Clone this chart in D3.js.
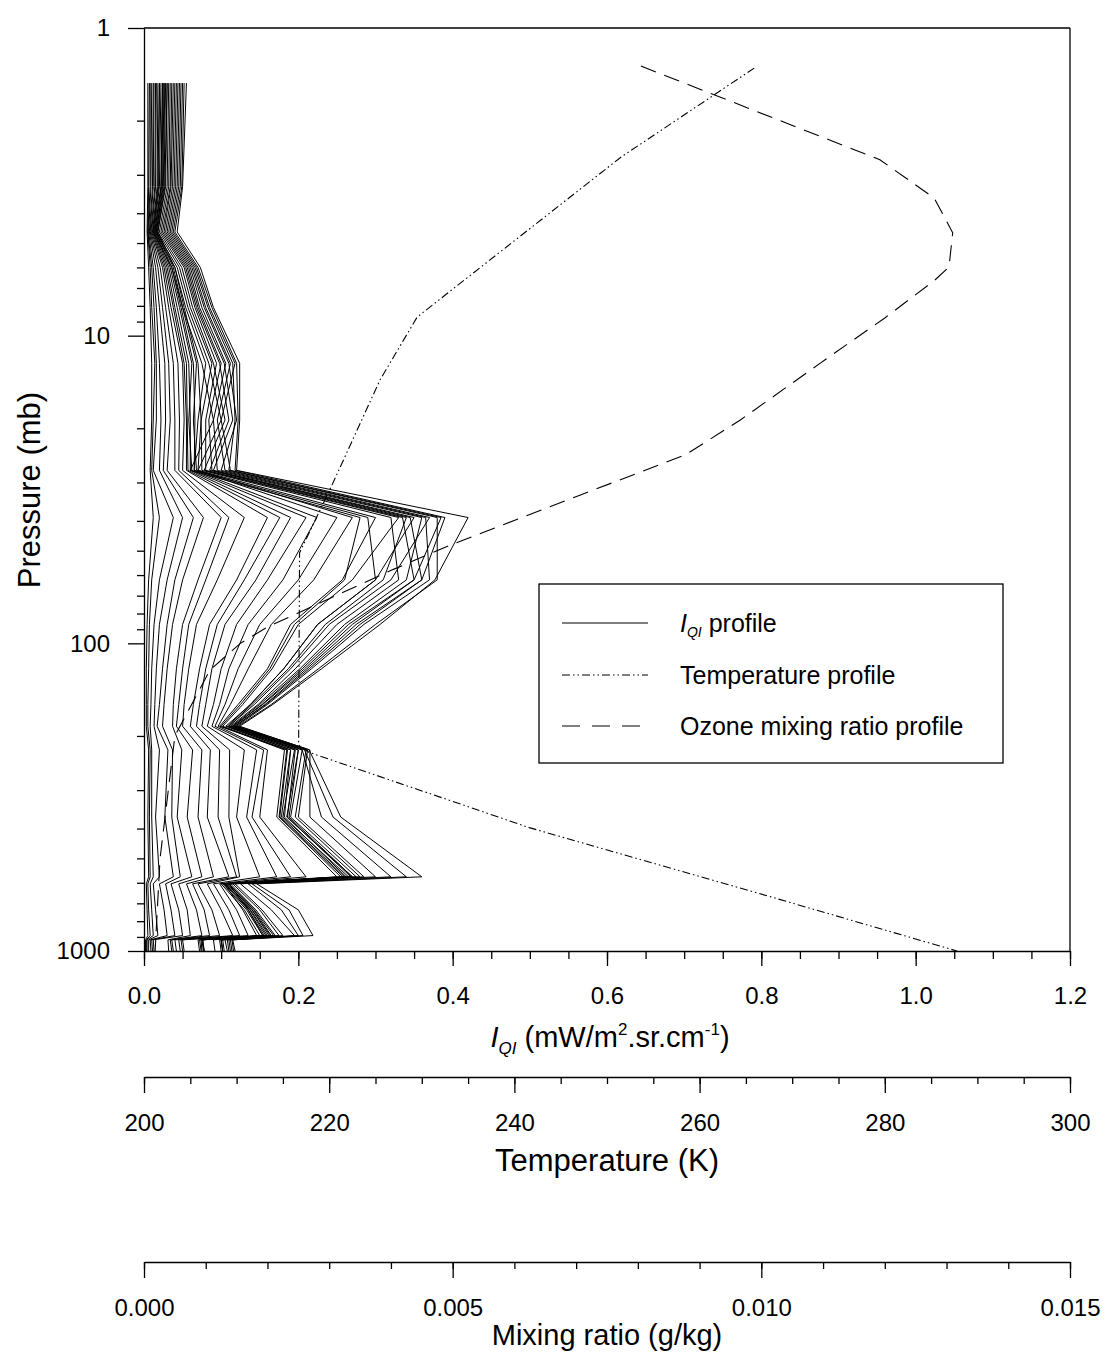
<!DOCTYPE html>
<html>
<head>
<meta charset="utf-8">
<script src="https://cdn.jsdelivr.net/npm/d3@7"></script>
<style>
  body { margin: 0; background: #fff; }
  text { font-family: "Liberation Sans", Arial, sans-serif; fill: #000; }
</style>
</head>
<body>
<svg id="chart"></svg>
<script>
// pressure levels (mb) of the I_QI profiles
const pressureLevels = [1.51, 3.28, 4.6, 6.0, 8.1, 12.3, 18.8, 27.4, 39, 62.2, 86.8, 121, 158, 186, 222, 367, 574, 605, 735, 891, 920, 1000];

// one row per profile, one value per pressure level (mW/m2.sr.cm-1)
const iqiProfiles = [
  [0.005,0.005,0.004,0.006,0.008,0.010,0.010,0.008, 0.012,0.006,0.004,0.003,0.003,0.003,0.006,0.005,0.006,0.003,0.004,0.005,0.002,0.002],
  [0.007,0.006,0.005,0.008,0.010,0.014,0.012,0.010, 0.020,0.010,0.007,0.006,0.005,0.005,0.008,0.007,0.008,0.005,0.006,0.008,0.003,0.003],
  [0.008,0.008,0.005,0.010,0.013,0.016,0.016,0.012, 0.038,0.020,0.013,0.010,0.009,0.008,0.010,0.010,0.012,0.008,0.010,0.012,0.004,0.004],
  [0.010,0.009,0.006,0.012,0.016,0.020,0.022,0.020, 0.050,0.030,0.020,0.016,0.014,0.013,0.020,0.015,0.020,0.012,0.015,0.018,0.006,0.006],
  [0.012,0.011,0.007,0.015,0.020,0.027,0.028,0.025, 0.064,0.040,0.030,0.024,0.020,0.017,0.031,0.027,0.038,0.020,0.026,0.030,0.008,0.009],
  [0.013,0.012,0.008,0.018,0.024,0.032,0.034,0.030, 0.077,0.050,0.037,0.030,0.026,0.024,0.037,0.036,0.047,0.028,0.035,0.040,0.010,0.011],
  [0.015,0.014,0.009,0.021,0.028,0.038,0.040,0.040, 0.100,0.070,0.050,0.042,0.038,0.037,0.049,0.043,0.062,0.035,0.045,0.050,0.012,0.013],
  [0.016,0.015,0.010,0.024,0.032,0.044,0.046,0.045, 0.110,0.080,0.058,0.050,0.045,0.042,0.063,0.056,0.075,0.045,0.056,0.060,0.031,0.032],
  [0.018,0.017,0.011,0.026,0.035,0.050,0.052,0.050, 0.130,0.095,0.068,0.058,0.052,0.050,0.075,0.070,0.090,0.055,0.068,0.075,0.034,0.036],
  [0.020,0.018,0.012,0.028,0.038,0.052,0.055,0.055, 0.160,0.120,0.085,0.072,0.064,0.060,0.086,0.082,0.110,0.063,0.078,0.085,0.036,0.038],
  [0.022,0.020,0.013,0.030,0.040,0.055,0.056,0.057, 0.176,0.130,0.095,0.080,0.072,0.068,0.098,0.096,0.120,0.070,0.088,0.098,0.040,0.042],
  [0.024,0.022,0.014,0.032,0.043,0.058,0.060,0.060, 0.190,0.145,0.105,0.088,0.080,0.075,0.111,0.110,0.124,0.082,0.100,0.115,0.045,0.047],
  [0.025,0.023,0.015,0.034,0.046,0.062,0.058,0.062, 0.210,0.160,0.120,0.100,0.090,0.082,0.130,0.120,0.150,0.090,0.110,0.124,0.048,0.050],
  [0.026,0.024,0.016,0.036,0.048,0.064,0.066,0.065, 0.224,0.180,0.135,0.110,0.098,0.088,0.146,0.133,0.172,0.098,0.120,0.135,0.050,0.052],
  [0.028,0.026,0.017,0.038,0.050,0.068,0.064,0.068, 0.250,0.200,0.150,0.122,0.105,0.092,0.155,0.140,0.190,0.104,0.128,0.146,0.070,0.072],
  [0.030,0.027,0.018,0.040,0.052,0.070,0.074,0.070, 0.270,0.220,0.165,0.135,0.112,0.096,0.160,0.150,0.210,0.110,0.135,0.154,0.072,0.074],
  [0.020,0.019,0.012,0.036,0.050,0.075,0.090,0.060, 0.280,0.260,0.195,0.163,0.125,0.100,0.182,0.172,0.250,0.100,0.130,0.150,0.074,0.075],
  [0.024,0.022,0.014,0.040,0.054,0.080,0.070,0.065, 0.290,0.300,0.225,0.181,0.138,0.108,0.190,0.178,0.260,0.105,0.137,0.158,0.076,0.078],
  [0.027,0.025,0.016,0.043,0.057,0.084,0.100,0.070, 0.300,0.257,0.190,0.160,0.122,0.098,0.185,0.175,0.255,0.102,0.133,0.154,0.075,0.077],
  [0.030,0.028,0.018,0.046,0.060,0.088,0.074,0.075, 0.320,0.330,0.250,0.196,0.148,0.112,0.200,0.185,0.270,0.110,0.142,0.165,0.100,0.102],
  [0.032,0.030,0.020,0.049,0.063,0.090,0.105,0.078, 0.330,0.270,0.200,0.166,0.128,0.102,0.186,0.176,0.258,0.104,0.135,0.156,0.076,0.078],
  [0.034,0.032,0.022,0.052,0.066,0.094,0.080,0.080, 0.335,0.350,0.265,0.205,0.153,0.115,0.205,0.190,0.275,0.112,0.145,0.170,0.102,0.104],
  [0.036,0.034,0.024,0.054,0.068,0.098,0.110,0.085, 0.340,0.310,0.235,0.187,0.140,0.110,0.195,0.180,0.265,0.108,0.140,0.162,0.090,0.092],
  [0.038,0.035,0.026,0.056,0.070,0.100,0.084,0.088, 0.345,0.360,0.275,0.211,0.157,0.118,0.210,0.196,0.280,0.115,0.150,0.175,0.105,0.108],
  [0.040,0.037,0.028,0.058,0.072,0.104,0.115,0.090, 0.350,0.300,0.225,0.181,0.138,0.106,0.190,0.182,0.262,0.106,0.138,0.160,0.098,0.100],
  [0.042,0.039,0.030,0.060,0.075,0.106,0.090,0.095, 0.360,0.340,0.260,0.202,0.150,0.114,0.200,0.188,0.270,0.110,0.143,0.168,0.100,0.102],
  [0.044,0.041,0.032,0.062,0.078,0.110,0.120,0.100, 0.365,0.370,0.285,0.217,0.160,0.120,0.212,0.200,0.285,0.118,0.153,0.180,0.108,0.110],
  [0.046,0.043,0.034,0.064,0.080,0.112,0.095,0.105, 0.370,0.320,0.240,0.190,0.143,0.110,0.196,0.186,0.268,0.108,0.140,0.164,0.100,0.102],
  [0.048,0.045,0.036,0.066,0.083,0.115,0.118,0.110, 0.380,0.380,0.300,0.226,0.165,0.122,0.215,0.215,0.300,0.125,0.165,0.195,0.110,0.112],
  [0.050,0.047,0.038,0.068,0.085,0.118,0.100,0.112, 0.385,0.350,0.270,0.208,0.154,0.116,0.205,0.230,0.320,0.135,0.178,0.200,0.112,0.114],
  [0.052,0.049,0.040,0.070,0.088,0.120,0.122,0.118, 0.390,0.360,0.280,0.214,0.158,0.118,0.208,0.245,0.340,0.140,0.188,0.206,0.114,0.116],
  [0.055,0.050,0.043,0.073,0.090,0.124,0.124,0.120, 0.420,0.377,0.306,0.230,0.167,0.124,0.214,0.255,0.360,0.146,0.200,0.219,0.115,0.118]
];

// temperature profile (K)
const tempPressure = [1.35, 2.63, 8.7, 13.9, 30.6, 50.8, 214, 226, 398, 667, 1000];
const tempValues   = [265.9, 251.5, 229.5, 225.5, 220.3, 216.8, 216.7, 217.8, 241.7, 267.7, 287.8];

// ozone mixing ratio profile (g/kg)
const ozonePressure = [1.33, 2.68, 3.57, 4.63, 5.98, 6.6, 8.76, 12.3, 18.8, 24.4, 33, 47.6, 57.6, 88.5, 100, 122, 200, 500, 1000];
const ozoneValues   = [0.00805, 0.01192, 0.0128, 0.0131, 0.01304, 0.01281, 0.0120, 0.01095, 0.00966, 0.00877, 0.00706, 0.0050, 0.00403, 0.0020, 0.00156, 0.00107, 0.0005, 0.00026, 0.00018];

// tick labels
const pressureTicks = [1, 10, 100, 1000];
const iqiTicks = [0, 0.2, 0.4, 0.6, 0.8, 1.0, 1.2];
const tempTicks = [200, 220, 240, 260, 280, 300];
const mixTicks = [0, 0.005, 0.010, 0.015];

const W = 1112, H = 1358;
const plot = { left: 144, right: 1070, top: 28, bottom: 951 };

const svg = d3.select("#chart").attr("width", W).attr("height", H);
svg.append("rect").attr("width", W).attr("height", H).attr("fill", "#fff");

// scales
const y = d3.scaleLog().domain([1, 1000]).range([plot.top, plot.bottom]);
const x = d3.scaleLinear().domain([0, 1.2]).range([plot.left, plot.right]);
const xT = d3.scaleLinear().domain([200, 300]).range([plot.left, plot.right]);
const xM = d3.scaleLinear().domain([0, 0.015]).range([plot.left, plot.right]);

const tickFont = 24;

function styleAxis(g) {
  g.selectAll("path, line").attr("stroke", "#000").attr("stroke-width", 1.3);
  g.selectAll("text").style("font-size", tickFont + "px").attr("fill", "#000");
}

// minor tick values
const logMinor = [];
[1, 10, 100].forEach(d => { for (let k = 2; k <= 9; k++) logMinor.push(d * k); });

// left axis
svg.append("g").attr("transform", `translate(${plot.left},0)`)
   .call(d3.axisLeft(y).tickValues(logMinor).tickSize(7).tickFormat("").tickSizeOuter(0))
   .call(styleAxis);
svg.append("g").attr("transform", `translate(${plot.left},0)`)
   .call(d3.axisLeft(y).tickValues(pressureTicks).tickSize(16).tickPadding(18).tickFormat(d3.format("d")).tickSizeOuter(0))
   .call(styleAxis)
   .call(g => g.select(".domain").remove());

// bottom axis
svg.append("g").attr("transform", `translate(0,${plot.bottom})`)
   .call(d3.axisBottom(x).tickValues(d3.range(0, 1.2001, 0.05)).tickSize(8).tickFormat("").tickSizeOuter(0))
   .call(styleAxis);
svg.append("g").attr("transform", `translate(0,${plot.bottom})`)
   .call(d3.axisBottom(x).tickValues(iqiTicks).tickSize(15).tickPadding(21).tickFormat(d3.format(".1f")).tickSizeOuter(0))
   .call(styleAxis)
   .call(g => g.select(".domain").remove());

// frame top and right
svg.append("line").attr("x1", plot.left).attr("x2", plot.right).attr("y1", plot.top).attr("y2", plot.top)
   .attr("stroke", "#000").attr("stroke-width", 1.3);
svg.append("line").attr("x1", plot.right).attr("x2", plot.right).attr("y1", plot.top).attr("y2", plot.bottom)
   .attr("stroke", "#000").attr("stroke-width", 1.3);

// temperature axis
const tempY = 1077;
svg.append("g").attr("transform", `translate(0,${tempY})`)
   .call(d3.axisBottom(xT).tickValues(d3.range(200, 301, 5)).tickSize(7).tickFormat("").tickSizeOuter(0))
   .call(styleAxis);
svg.append("g").attr("transform", `translate(0,${tempY})`)
   .call(d3.axisBottom(xT).tickValues(tempTicks).tickSize(16).tickPadding(21).tickFormat(d3.format("d")).tickSizeOuter(0))
   .call(styleAxis)
   .call(g => g.select(".domain").remove());

// mixing ratio axis
const mixY = 1262;
svg.append("g").attr("transform", `translate(0,${mixY})`)
   .call(d3.axisBottom(xM).tickValues(d3.range(0, 0.01501, 0.001)).tickSize(7).tickFormat("").tickSizeOuter(0))
   .call(styleAxis);
svg.append("g").attr("transform", `translate(0,${mixY})`)
   .call(d3.axisBottom(xM).tickValues(mixTicks).tickSize(16).tickPadding(21).tickFormat(d3.format(".3f")).tickSizeOuter(0))
   .call(styleAxis)
   .call(g => g.select(".domain").remove());

// axis titles
svg.append("text").attr("transform", "translate(40,490) rotate(-90)")
   .attr("text-anchor", "middle").style("font-size", "31px").text("Pressure (mb)");

const xt = svg.append("text").attr("x", 610).attr("y", 1047).attr("text-anchor", "middle").style("font-size", "29px");
xt.append("tspan").style("font-style", "italic").text("I");
xt.append("tspan").style("font-style", "italic").style("font-size", "17px").attr("dy", 7).text("QI");
xt.append("tspan").attr("dy", -7).text(" (mW/m");
xt.append("tspan").style("font-size", "17px").attr("dy", -12).text("2");
xt.append("tspan").attr("dy", 12).text(".sr.cm");
xt.append("tspan").style("font-size", "17px").attr("dy", -12).text("-1");
xt.append("tspan").attr("dy", 12).text(")");

svg.append("text").attr("x", 607).attr("y", 1171).attr("text-anchor", "middle")
   .style("font-size", "31px").text("Temperature (K)");
svg.append("text").attr("x", 607).attr("y", 1345).attr("text-anchor", "middle")
   .style("font-size", "29px").text("Mixing ratio (g/kg)");

// I_QI profiles
const iqiLine = d3.line().x(d => x(d[0])).y(d => y(d[1]));
svg.append("g").selectAll("path")
   .data(iqiProfiles)
   .enter().append("path")
   .attr("d", row => iqiLine(row.map((v, i) => [v, pressureLevels[i]])))
   .attr("fill", "none")
   .attr("stroke", "#000")
   .attr("stroke-width", 1);

// temperature profile
const tempLine = d3.line().x(d => xT(d[0])).y(d => y(d[1]));
svg.append("path")
   .attr("d", tempLine(tempValues.map((v, i) => [v, tempPressure[i]])))
   .attr("fill", "none").attr("stroke", "#000").attr("stroke-width", 1.1)
   .attr("stroke-dasharray", "8,3,1.5,3,1.5,3");

// ozone profile
const ozoneLine = d3.line().x(d => xM(d[0])).y(d => y(d[1]));
svg.append("path")
   .attr("d", ozoneLine(ozoneValues.map((v, i) => [v, ozonePressure[i]])))
   .attr("fill", "none").attr("stroke", "#000").attr("stroke-width", 1.1)
   .attr("stroke-dasharray", "16,9");

// legend
const lg = svg.append("g");
lg.append("rect").attr("x", 539).attr("y", 584).attr("width", 464).attr("height", 179)
  .attr("fill", "#fff").attr("stroke", "#000").attr("stroke-width", 1.3);
const legendItems = [
  { y: 623, dash: null },
  { y: 675, dash: "8,3,1.5,3,1.5,3" },
  { y: 726, dash: "18,12" }
];
legendItems.forEach(d => {
  lg.append("line").attr("x1", 562).attr("x2", 648).attr("y1", d.y).attr("y2", d.y)
    .attr("stroke", "#000").attr("stroke-width", 1.1)
    .attr("stroke-dasharray", d.dash);
});
const t1 = lg.append("text").attr("x", 680).attr("y", 632).style("font-size", "25px");
t1.append("tspan").style("font-style", "italic").text("I");
t1.append("tspan").style("font-style", "italic").style("font-size", "14px").attr("dy", 5).text("QI");
t1.append("tspan").attr("dy", -5).text(" profile");
lg.append("text").attr("x", 680).attr("y", 684).style("font-size", "25px").text("Temperature profile");
lg.append("text").attr("x", 680).attr("y", 735).style("font-size", "25px").text("Ozone mixing ratio profile");
</script>
</body>
</html>
